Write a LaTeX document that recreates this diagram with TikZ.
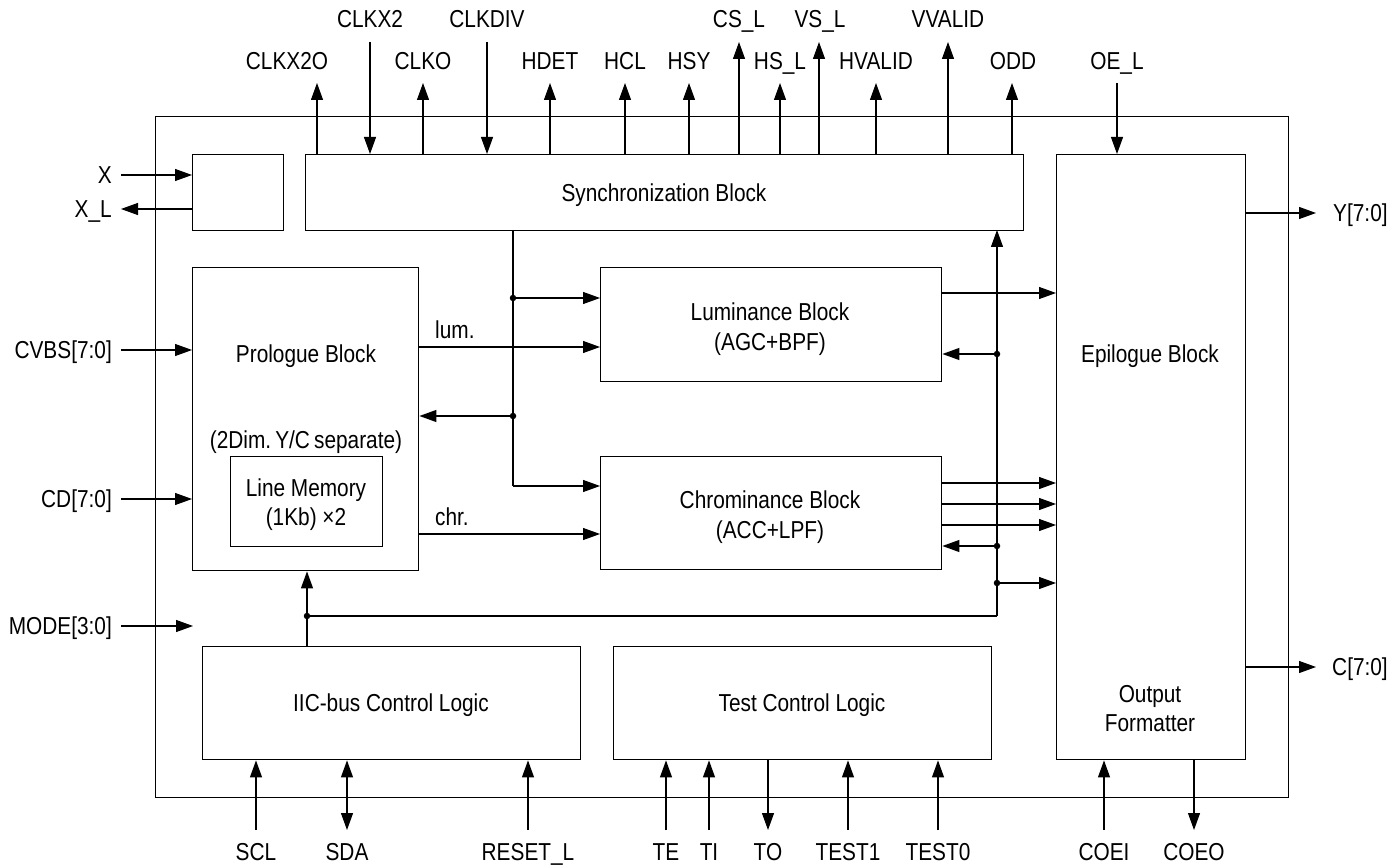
\documentclass[tikz,border=0pt]{standalone}
\usepackage{fontspec}
\setmainfont{Liberation Sans}[FakeStretch=0.85]
\usetikzlibrary{arrows.meta}
\begin{document}
\begin{tikzpicture}[x=1pt,y=-1pt,
  font=\fontsize{24.5}{29}\selectfont,
  blk/.style={draw, line width=1.4pt, inner sep=0pt, anchor=north west},
  txt/.style={inner sep=0pt, anchor=base},
  lbl/.style={inner sep=0pt, anchor=base},
  lblr/.style={inner sep=0pt, anchor=base east},
  lbll/.style={inner sep=0pt, anchor=base west},
  wire/.style={line width=1.1pt},
  arr/.style={line width=1.1pt, -{Triangle[length=17pt,width=12pt]}},
  darr/.style={line width=1.1pt, {Triangle[length=17pt,width=12pt]}-{Triangle[length=17pt,width=12pt]}},
  jdot/.style={circle, fill, inner sep=0pt, minimum size=6.5pt}]
\useasboundingbox (0,0) rectangle (1399,866);

% blocks
\node[blk, minimum width=1133pt, minimum height=681pt] (chip) at (155,116) {};
\node[blk, minimum width=91pt, minimum height=76pt] (osc) at (192,154) {};
\node[blk, minimum width=718pt, minimum height=76pt] (sync) at (305,154) {};
\node[blk, minimum width=189pt, minimum height=605pt] (epi) at (1056,154) {};
\node[blk, minimum width=226pt, minimum height=303pt] (pro) at (192,267) {};
\node[blk, minimum width=152pt, minimum height=90pt] (mem) at (230,456) {};
\node[blk, minimum width=341pt, minimum height=114pt] (lum) at (600,267) {};
\node[blk, minimum width=341pt, minimum height=113pt] (chr) at (600,456) {};
\node[blk, minimum width=378pt, minimum height=113pt] (iic) at (202,646) {};
\node[blk, minimum width=378pt, minimum height=113pt] (tst) at (613,646) {};

% block texts
\node[txt] (tsync) at (664,201.5) {Synchronization Block};
\node[txt] (tpro) at (306,362.5) {Prologue Block};
\node[txt] (tpro2) at (306,448.5) {(2Dim.\,Y/C\,separate)};
\node[txt] (tmem) at (306,496.5) {Line Memory};
\node[txt] (tmem2) at (306,525.5) {(1Kb) ×2};
\node[txt] (tlum) at (770,320.5) {Luminance Block};
\node[txt] (tlum2) at (770,350.5) {(AGC+BPF)};
\node[txt] (tchr) at (770,508.5) {Chrominance Block};
\node[txt] (tchr2) at (770,538.5) {(ACC+LPF)};
\node[txt] (tepi) at (1150,362) {Epilogue Block};
\node[txt] (tout) at (1150,702.5) {Output};
\node[txt] (tfmt) at (1150,731.5) {Formatter};
\node[txt] (tiic) at (391,711.5) {IIC-bus Control Logic};
\node[txt] (ttst) at (802,711.5) {Test Control Logic};
\node[lbll] (tl) at (435,338.5) {lum.};
\node[lbll] (tc) at (435,525) {chr.};

% top signals
\node[lbl] (lclkx2o) at (287,70) {CLKX2O};
\node[lbl] (lclkx2) at (370,28) {CLKX2};
\node[lbl] (lclko) at (423,70) {CLKO};
\node[lbl] (lclkdiv) at (487,28) {CLKDIV};
\node[lbl] (lhdet) at (550,70) {HDET};
\node[lbl] (lhcl) at (625,70) {HCL};
\node[lbl] (lhsy) at (689,70) {HSY};
\node[lbl] (lcsl) at (739,28) {CS\_L};
\node[lbl] (lhsl) at (780,70) {HS\_L};
\node[lbl] (lvsl) at (820,28) {VS\_L};
\node[lbl] (lhval) at (876,70) {HVALID};
\node[lbl] (lvval) at (948,28) {VVALID};
\node[lbl] (lodd) at (1013,70) {ODD};
\node[lbl] (loel) at (1117,70) {OE\_L};

\coordinate (pclkx2o) at (317,83);
\coordinate (pclkx2) at (370,42);
\coordinate (pclko) at (423,83);
\coordinate (pclkdiv) at (487,42);
\coordinate (phdet) at (550,83);
\coordinate (phcl) at (625,83);
\coordinate (phsy) at (689,83);
\coordinate (pcsl) at (739,42);
\coordinate (phsl) at (780,83);
\coordinate (pvsl) at (819,42);
\coordinate (phval) at (876,83);
\coordinate (pvval) at (948,42);
\coordinate (podd) at (1012,83);
\coordinate (poel) at (1117,83);

\foreach \p in {pclkx2o,pclko,phdet,phcl,phsy,pcsl,phsl,pvsl,phval,pvval,podd}
  \draw[arr] (\p |- sync.north) -- (\p);
\draw[arr] (pclkx2) -- (pclkx2 |- sync.north);
\draw[arr] (pclkdiv) -- (pclkdiv |- sync.north);
\draw[arr] (poel) -- (poel |- epi.north);

% left signals
\node[lblr] (lx) at (112,183.5) {X};
\node[lblr] (lxl) at (112,217.5) {X\_L};
\node[lblr] (lcvbs) at (112,358.5) {CVBS[7:0]};
\node[lblr] (lcd) at (112,507.5) {CD[7:0]};
\node[lblr] (lmode) at (112,634.5) {MODE[3:0]};
\coordinate (px) at (121,175);
\coordinate (pxl) at (121,209);
\coordinate (pcvbs) at (121,350);
\coordinate (pcd) at (121,499);
\coordinate (pmode) at (121,626);
\coordinate (pmodeend) at (193,626);
\draw[arr] (px) -- (px -| osc.west);
\draw[arr] (pxl -| osc.west) -- (pxl);
\draw[arr] (pcvbs) -- (pcvbs -| pro.west);
\draw[arr] (pcd) -- (pcd -| pro.west);
\draw[arr] (pmode) -- (pmodeend);

% right signals
\node[lbll] (ly) at (1333,221.5) {Y[7:0]};
\node[lbll] (lc) at (1332,675.5) {C[7:0]};
\coordinate (py) at (1316,213);
\coordinate (pc) at (1316,667);
\draw[arr] (py -| epi.east) -- (py);
\draw[arr] (pc -| epi.east) -- (pc);

% bottom signals
\node[lbl] (lscl) at (256,860) {SCL};
\node[lbl] (lsda) at (347,860) {SDA};
\node[lbl] (lrst) at (528,860) {RESET\_L};
\node[lbl] (lte) at (666,860) {TE};
\node[lbl] (lti) at (709,860) {TI};
\node[lbl] (lto) at (768,860) {TO};
\node[lbl] (lt1) at (848,860) {TEST1};
\node[lbl] (lt0) at (938,860) {TEST0};
\node[lbl] (lcoei) at (1104,860) {COEI};
\node[lbl] (lcoeo) at (1194,860) {COEO};
\coordinate (pscl) at (256,830);
\coordinate (psda) at (347,830);
\coordinate (prst) at (528,830);
\coordinate (pte) at (666,830);
\coordinate (pti) at (709,830);
\coordinate (pto) at (768,830);
\coordinate (pt1) at (848,830);
\coordinate (pt0) at (938,830);
\coordinate (pcoei) at (1104,830);
\coordinate (pcoeo) at (1194,830);
\foreach \p in {pscl,prst}
  \draw[arr] (\p) -- (\p |- iic.south);
\draw[darr] (psda) -- (psda |- iic.south);
\foreach \p in {pte,pti,pt1,pt0}
  \draw[arr] (\p) -- (\p |- tst.south);
\draw[arr] (pto |- tst.south) -- (pto);
\draw[arr] (pcoei) -- (pcoei |- epi.south);
\draw[arr] (pcoeo |- epi.south) -- (pcoeo);

% internal bus from sync
\coordinate (bs) at (513,230);
\node[jdot] (d1) at (513,298) {};
\node[jdot] (d2) at (513,416) {};
\coordinate (bc) at (513,486);
\draw[wire] (bs) -- (bc);
\draw[arr] (bc) -- (bc -| chr.west);
\draw[arr] (d1) -- (d1 -| lum.west);
\draw[arr] (d2) -- (d2 -| pro.east);

% lum / chr data
\coordinate (plum) at (418,347);
\coordinate (pchr) at (418,534);
\draw[arr] (plum) -- (plum -| lum.west);
\draw[arr] (pchr) -- (pchr -| chr.west);

% outputs to epilogue
\coordinate (o1) at (941,293);
\coordinate (o2) at (941,483);
\coordinate (o3) at (941,504);
\coordinate (o4) at (941,525);
\foreach \p in {o1,o2,o3,o4}
  \draw[arr] (\p) -- (\p -| epi.west);

% control bus from IIC
\node[jdot] (d5) at (307,616) {};
\coordinate (bb) at (997,616);
\coordinate (bt) at (997,230);
\node[jdot] (d3) at (997,354) {};
\node[jdot] (d4) at (997,546) {};
\node[jdot] (d6) at (997,583) {};
\draw[arr] (d5 |- iic.north) -- (d5 |- pro.south);
\draw[wire] (d5) -- (bb);
\draw[arr] (bb) -- (bt);
\draw[arr] (d3) -- (d3 -| lum.east);
\draw[arr] (d4) -- (d4 -| chr.east);
\draw[arr] (d6) -- (d6 -| epi.west);
\end{tikzpicture}
\end{document}
